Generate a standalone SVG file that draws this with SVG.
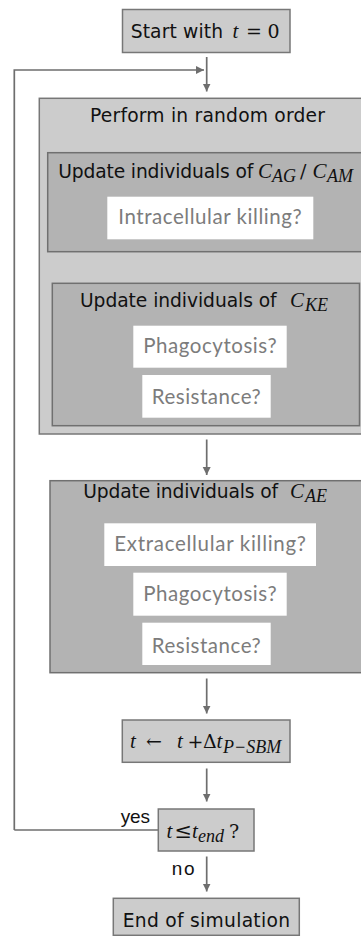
<svg xmlns="http://www.w3.org/2000/svg" width="361" height="936" viewBox="0 0 361 936">
<style>
.light{fill:#cccccc;stroke:#777777;stroke-width:1.5}
.dark{fill:#b3b3b3;stroke:#707070;stroke-width:1.5}
.white{fill:#ffffff;stroke:none}
.lbl{font-family:"DejaVu Sans",sans-serif;font-size:18.7px;fill:#111111}
.q{font-family:Lato,"Open Sans",sans-serif;font-size:20.5px;fill:#7c7c7c}
.mi{font-family:"Liberation Serif",serif;font-style:italic;font-size:21px;fill:#111111}
.ms{font-family:"Liberation Serif",serif;font-style:italic;font-size:18px;fill:#111111}
.mr{font-family:"DejaVu Serif","Liberation Serif",serif;font-size:19px;fill:#111111}
.yn{font-family:"Liberation Sans",Arial,sans-serif;font-size:19px;fill:#111111}
.conn{fill:none;stroke:#6e6e6e;stroke-width:1.7}
</style>
<defs>
<marker id="ah" markerWidth="10" markerHeight="10" refX="8" refY="4" orient="auto" markerUnits="userSpaceOnUse">
<path d="M0,0 L8,4 L0,8 Z" fill="#6e6e6e"/>
</marker>
</defs>

<g id="connectors">
<path class="conn" d="M206.7,57 V91.5" marker-end="url(#ah)"/>
<path class="conn" d="M14.3,830 V70 H204" marker-end="url(#ah)"/>
<path class="conn" d="M206.7,439.5 V475" marker-end="url(#ah)"/>
<path class="conn" d="M206.7,678.5 V713.5" marker-end="url(#ah)"/>
<path class="conn" d="M206.7,768.5 V801.5" marker-end="url(#ah)"/>
<path class="conn" d="M158.3,830 H14.3"/>
<path class="conn" d="M206.7,856.5 V891.5" marker-end="url(#ah)"/>
<text class="yn" x="120.7" y="823" textLength="29.3">yes</text>
<text class="yn" x="171.7" y="875" textLength="23">no</text>
</g>

<g id="start">
<rect class="light" x="122.5" y="9.5" width="167.5" height="43"/>
<text class="lbl" x="130.7" y="38" textLength="92.3">Start with</text>
<text class="mi" x="232.5" y="38">t</text>
<text class="mr" x="246" y="38">=</text>
<text class="mr" x="267.5" y="38">0</text>
</g>

<g id="perform">
<rect class="light" x="39.3" y="98.3" width="380" height="335.7"/>
<text class="lbl" x="90" y="121.5" textLength="235">Perform in random order</text>
</g>

<g id="update-ag-am">
<rect class="dark" x="47.7" y="152.7" width="370" height="99"/>
<text class="lbl" x="58.3" y="178" textLength="195">Update individuals of</text>
<text class="mi" x="258" y="178">C</text>
<text class="ms" x="272" y="182">AG</text>
<text class="mr" x="300" y="178">/</text>
<text class="mi" x="312.5" y="178">C</text>
<text class="ms" x="327" y="182">AM</text>
<rect class="white" x="107.3" y="196.7" width="206" height="42.6"/>
<text class="q" x="118.3" y="224" textLength="183.4">Intracellular killing?</text>
</g>

<g id="update-ke">
<rect class="dark" x="52.3" y="283.3" width="307.2" height="142.4"/>
<text class="lbl" x="80" y="306.7" textLength="196.7">Update individuals of</text>
<text class="mi" x="290" y="306.7">C</text>
<text class="ms" x="305" y="310.7">KE</text>
<rect class="white" x="133.3" y="325.7" width="153.4" height="42"/>
<text class="q" x="143.3" y="353" textLength="133.4">Phagocytosis?</text>
<rect class="white" x="142.3" y="375" width="128.4" height="42.7"/>
<text class="q" x="151.7" y="404" textLength="109">Resistance?</text>
</g>

<g id="update-ae">
<rect class="dark" x="50" y="480.7" width="370" height="192"/>
<text class="lbl" x="83.3" y="498.3" textLength="194.7">Update individuals of</text>
<text class="mi" x="290" y="498.3">C</text>
<text class="ms" x="305" y="502.3">AE</text>
<rect class="white" x="104.3" y="523.3" width="211.7" height="42.7"/>
<text class="q" x="114.3" y="551" textLength="191.7">Extracellular killing?</text>
<rect class="white" x="133.3" y="572.7" width="153.4" height="43"/>
<text class="q" x="143.3" y="600.7" textLength="133.4">Phagocytosis?</text>
<rect class="white" x="142.3" y="622.7" width="128.4" height="42.3"/>
<text class="q" x="151.7" y="652.5" textLength="109">Resistance?</text>
</g>

<g id="time-step">
<rect class="light" x="122.3" y="720" width="167.7" height="42.3"/>
<text class="mi" x="130" y="748">t</text>
<text class="mr" x="146" y="748" textLength="27">←</text>
<text class="mi" x="177" y="748">t</text>
<text class="mr" x="187.5" y="748">+</text>
<text class="mr" x="203" y="748">Δ</text>
<text class="mi" x="216.5" y="748">t</text>
<text class="ms" x="223" y="752.5">P−SBM</text>
</g>

<g id="decision">
<rect class="light" x="158.3" y="809" width="95.7" height="42"/>
<text class="mi" x="166.5" y="838">t</text>
<text class="mr" x="174.5" y="838" style="font-size:21px">≤</text>
<text class="mi" x="192" y="838">t</text>
<text class="ms" x="198" y="842">end</text>
<text class="mr" x="229" y="838">?</text>
</g>

<g id="end">
<rect class="light" x="113.3" y="898.3" width="186" height="37"/>
<text class="lbl" x="122.7" y="926.7" textLength="167.3">End of simulation</text>
</g>
</svg>
